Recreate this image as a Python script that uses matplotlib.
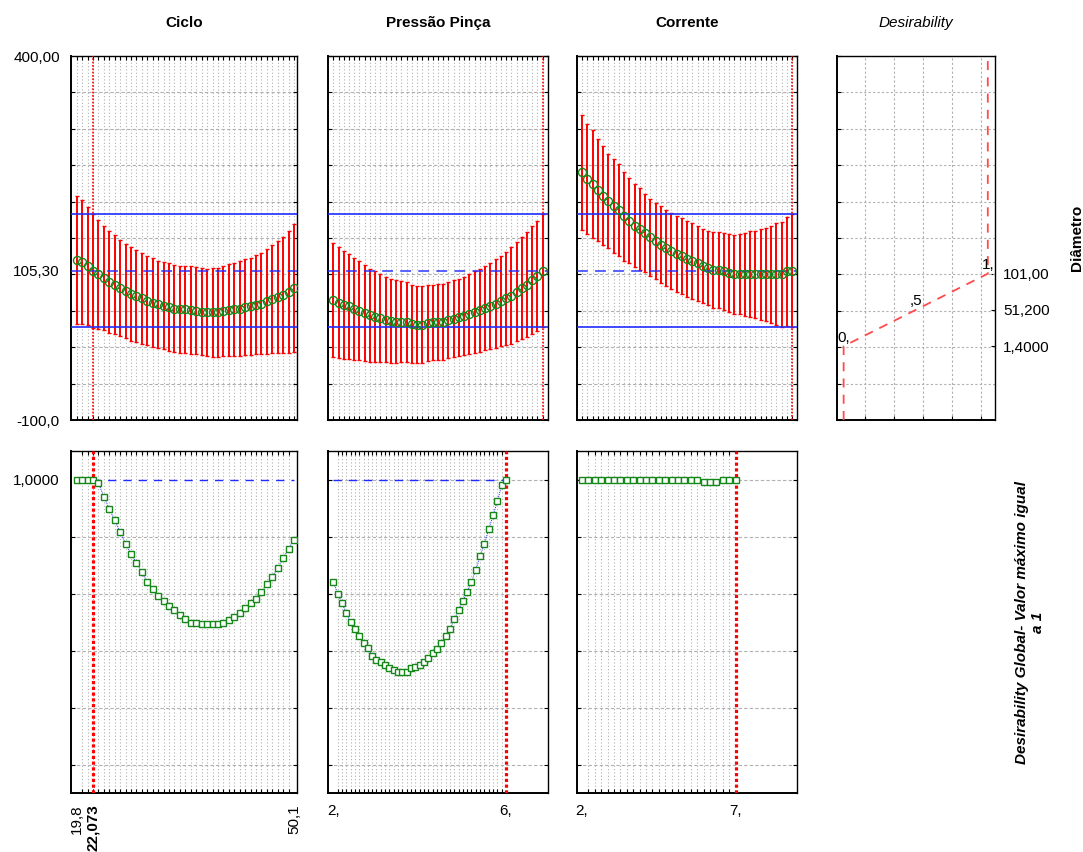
import numpy as np
import matplotlib
matplotlib.use("Agg")
import matplotlib.pyplot as plt

# ---------------- data ----------------
titles = ["Ciclo", "Pressão Pinça", "Corrente"]
des_title = "Desirability"
right_label_top = "Diâmetro"
right_label_bot = "Desirability Global- Valor máximo igual\na 1"

ciclo_top_range = (19.8, 50.1)
pressao_top_range = (2.0, 6.85)
corrente_top_range = (2.0, 8.84)

ciclo_pred = [119.8, 117, 112, 105, 100, 95, 90, 86, 81, 77,
              73, 70, 67, 64, 61, 59, 57, 55, 53, 52,
              52, 51, 50, 49, 48, 48, 48, 50, 51, 52,
              53, 55, 56, 58, 60, 63, 66, 69, 72, 76, 81]
ciclo_ci = [88, 85, 81, 78, 75, 72, 70, 68, 66, 65,
            64, 63, 62, 61, 61, 60, 60, 60, 60, 60,
            60, 60, 60, 60, 60, 61, 61, 62, 63, 64,
            65, 66, 67, 68, 70, 72, 74, 77, 80, 84, 88]
pressao_pred = [65, 61, 58, 56, 53, 50, 47, 44, 42, 40,
                38, 36, 35, 35, 34, 32, 31, 31, 33, 34,
                35, 35, 37, 39, 41, 43, 46, 48, 51, 54,
                57, 60, 63, 67, 71, 76, 81, 86, 92, 98, 105.3]
pressao_ci = [78, 76, 74, 72, 70, 68, 66, 64, 62, 61,
              59, 58, 57, 56, 55, 54, 53, 53, 52, 52,
              52, 52, 52, 53, 53, 54, 55, 56, 57, 58,
              59, 61, 62, 64, 66, 68, 70, 72, 74, 76, 78]
corrente_pred = [240, 231, 224, 216, 208, 201, 194, 188, 180, 174,
                 167, 162, 157, 151, 146, 141, 136, 132, 128, 125,
                 121, 118, 115, 112, 109, 106, 106, 104, 102, 100,
                 100, 100, 100, 100, 100, 100, 100, 100, 100, 104, 105.3]
corrente_ci = [79, 75, 74, 70, 68, 65, 64, 63, 61, 58,
               57, 56, 54, 53, 52, 53, 52, 52, 52, 52,
               52, 52, 51, 51, 51, 52, 52, 53, 53, 54,
               55, 57, 59, 60, 62, 64, 67, 70, 72, 75, 78]

current_pred = 105.30
current_ci = 78.0
current_top_x = [22.073, 6.85, 8.84]

ciclo_bot_range = (19.8, 50.1)
pressao_bot_range = (2.0, 6.0)
corrente_bot_range = (2.0, 7.0)
ciclo_des = [1.0, 1.0, 1.0, 1.0, 0.988, 0.939, 0.897, 0.857, 0.816, 0.773,
             0.740, 0.707, 0.674, 0.641, 0.615, 0.591, 0.574, 0.557, 0.541, 0.524,
             0.512, 0.498, 0.498, 0.492, 0.492, 0.492, 0.492, 0.498, 0.506, 0.516,
             0.532, 0.550, 0.565, 0.582, 0.607, 0.632, 0.658, 0.690, 0.723, 0.757, 0.789]
pressao_des = [0.641, 0.600, 0.567, 0.532, 0.500, 0.475, 0.450, 0.425, 0.409, 0.381,
               0.366, 0.358, 0.348, 0.340, 0.333, 0.326, 0.326, 0.326, 0.337, 0.343,
               0.348, 0.358, 0.374, 0.392, 0.407, 0.425, 0.450, 0.475, 0.509, 0.541,
               0.574, 0.607, 0.641, 0.682, 0.732, 0.775, 0.825, 0.874, 0.924, 0.980, 1.0]
corrente_des = [1.0, 1.0, 1.0, 1.0, 1.0, 1.0, 1.0, 1.0, 1.0, 1.0,
                1.0, 1.0, 1.0, 1.0, 1.0, 1.0, 1.0, 1.0, 1.0, 0.99,
                0.99, 0.99, 1.0, 1.0, 1.0]
current_bot_x = [22.073, 6.0, 7.0]
current_des = 1.0

xtick_vals = [[19.8, 22.073, 50.1], [2, 6], [2, 7]]
xtick_labels = [["19,8", "22,073", "50,1"], ["2,", "6,"], ["2,", "7,"]]
ytop_ticks = [-100, 105.3, 400]
ytop_labels = ["-100,0", "105,30", "400,00"]
ybot_ticks = [1.0]
ybot_labels = ["1,0000"]

diam_points = [1.4, 51.2, 101.0]
diam_labels = ["1,4000", "51,200", "101,00"]
des_points = [0.0, 0.5, 1.0]
des_point_labels = ["0,", ",5", "1,"]

# ---------------- style ----------------
FONT = ["Liberation Sans", "DejaVu Sans"]
NARROW = ["Liberation Sans Narrow", "Liberation Sans", "DejaVu Sans"]
plt.rcParams["font.family"] = FONT
W, H = 1083, 852
fig = plt.figure(figsize=(W / 100, H / 100), dpi=100)

def box(x0, y0, x1, y1):
    return [x0 / W, 1 - y1 / H, (x1 - x0) / W, (y1 - y0) / H]

cols_px = [(71, 297), (328, 548), (577, 797)]
top_y = (56, 420)
bot_y = (451, 793)
xlims = [(19.005, 50.52), (1.877, 6.973), (1.837, 9.0)]
top_data = [(ciclo_top_range, ciclo_pred, ciclo_ci),
            (pressao_top_range, pressao_pred, pressao_ci),
            (corrente_top_range, corrente_pred, corrente_ci)]
bot_data = [(ciclo_bot_range, ciclo_des), (pressao_bot_range, pressao_des),
            (corrente_bot_range, corrente_des)]

GREEN = "#16881a"
BLUE = "#1f2cff"
GRID = "#b0b0b0"
FS = 11

def style_spines(ax):
    for s in ax.spines.values():
        s.set_color("black")
        s.set_linewidth(1.0)
    ax.spines["left"].set_linewidth(1.4)
    ax.spines["bottom"].set_linewidth(1.4)

for c in range(3):
    x0, x1 = cols_px[c]
    # ---- top panel ----
    ax = fig.add_axes(box(x0, top_y[0], x1, top_y[1]))
    rng, pred, ci = top_data[c]
    xs = np.linspace(rng[0], rng[1], len(pred))
    ax.set_xlim(*xlims[c])
    ax.set_ylim(-100, 400)
    ax.errorbar(xs, pred, yerr=ci, fmt="none", ecolor="red", elinewidth=1.4,
                capsize=1.6, capthick=1.0, zorder=2)
    ax.axhline(current_pred + current_ci, color=BLUE, lw=1.2, zorder=3)
    ax.axhline(current_pred - current_ci, color=BLUE, lw=1.2, zorder=3)
    ax.axhline(current_pred, color=BLUE, lw=1.3, ls=(0, (6, 4)), alpha=0.8, zorder=3)
    ax.axvline(current_top_x[c], color="red", lw=1.2, ls=(0, (1, 1)), zorder=3)
    ax.plot(xs, pred, "o", mfc="none", mec=GREEN, ms=5.8, mew=1.0, zorder=4)
    ax.set_xticks(xs, minor=True)
    ax.set_xticks([])
    ax.set_yticks(np.arange(-100, 401, 50), minor=True)
    if c == 0:
        ax.set_yticks(ytop_ticks, ytop_labels)
    else:
        ax.set_yticks([])
    ax.grid(True, which="minor", axis="x", color=GRID, ls=(0, (1, 2)), lw=0.8)
    ax.grid(True, which="minor", axis="y", color=GRID, ls=(0, (3, 2)), lw=0.8)
    ax.tick_params(which="minor", direction="in", length=3, top=True, bottom=True,
                   left=True, right=True, width=0.8)
    ax.tick_params(which="major", direction="in", length=0, pad=8, labelsize=FS)
    ax.set_axisbelow(True)
    style_spines(ax)
    fig.text((x0 + x1) / 2 / W, 1 - 23 / H, titles[c], ha="center", va="center",
             fontsize=FS, fontweight="bold", family=NARROW)

    # ---- bottom panel ----
    axb = fig.add_axes(box(x0, bot_y[0], x1, bot_y[1]))
    rng, des = bot_data[c]
    xb = np.linspace(rng[0], rng[1], len(des))
    axb.set_xlim(*xlims[c])
    axb.set_ylim(-0.1, 1.1)
    axb.hlines(current_des, xb[0], xb[-1], color=BLUE, lw=1.0, ls=(0, (6, 5)), zorder=3)
    axb.axvline(current_bot_x[c], color="red", lw=2.3, ls=(0, (1, 0.8)), zorder=3)
    axb.plot(xb, des, color=BLUE, lw=0.7, ls=(0, (1, 1)), zorder=4)
    axb.plot(xb, des, "s", mfc="white", mec=GREEN, ms=4.8, mew=1.0, zorder=5)
    axb.set_xticks(xb, minor=True)
    axb.set_xticks(xtick_vals[c], xtick_labels[c])
    axb.set_yticks(np.arange(0, 1.01, 0.2), minor=True)
    if c == 0:
        axb.set_yticks(ybot_ticks, ybot_labels)
        axb.tick_params(axis="x", which="major", labelrotation=90)
        labs = axb.get_xticklabels()
        labs[1].set_fontweight("bold")
    else:
        axb.set_yticks([])
    axb.grid(True, which="minor", axis="x", color=GRID, ls=(0, (1, 2)), lw=0.8)
    axb.grid(True, which="minor", axis="y", color=GRID, ls=(0, (3, 2)), lw=0.8)
    axb.tick_params(which="minor", direction="in", length=3, top=True, bottom=True,
                    left=True, right=True, width=0.8)
    axb.tick_params(which="major", direction="in", length=0, pad=8, labelsize=FS)
    axb.set_axisbelow(True)
    style_spines(axb)

# ---- desirability profile panel ----
axd = fig.add_axes(box(837, top_y[0], 995, top_y[1]))
axd.set_xlim(-0.046, 1.05)
ylo, yhi = -100, 400
axd.set_ylim(ylo, yhi)
px = [des_points[0]] + des_points + [des_points[-1]]
py = [ylo] + diam_points + [yhi]
axd.plot(px, py, color="#ff4a4a", lw=1.3, ls=(0, (5, 4)), zorder=3)
for dx, dy, lab in zip(des_points, diam_points, des_point_labels):
    axd.text(dx, dy + 2, lab, ha="center", va="bottom", fontsize=FS, zorder=4)
axd.set_xticks([0.15, 0.35, 0.55, 0.75, 0.95], minor=True)
axd.set_xticks([])
axd.set_yticks(np.arange(-100, 401, 50), minor=True)
axd.set_yticks(diam_points, diam_labels)
axd.grid(True, which="minor", color=GRID, ls=(0, (2, 2)), lw=0.8)
axd.tick_params(which="minor", direction="in", length=3, left=True, right=False,
                bottom=True, top=False, width=0.8)
axd.tick_params(which="major", direction="in", length=3, left=False, right=True,
                labelleft=False, labelright=True, pad=6, labelsize=FS)
axd.set_axisbelow(True)
style_spines(axd)
fig.text((837 + 995) / 2 / W, 1 - 23 / H, des_title, ha="center", va="center",
         fontsize=FS, fontstyle="italic", family=NARROW)

fig.text(1077 / W, 1 - 238 / H, right_label_top, rotation=90, ha="center",
         va="center", fontsize=FS, fontweight="bold")
fig.text(1030 / W, 1 - 622 / H, right_label_bot, rotation=90, ha="center",
         va="center", multialignment="center", fontsize=FS, fontweight="bold",
         fontstyle="italic")

fig.savefig("out.png", dpi=100)
